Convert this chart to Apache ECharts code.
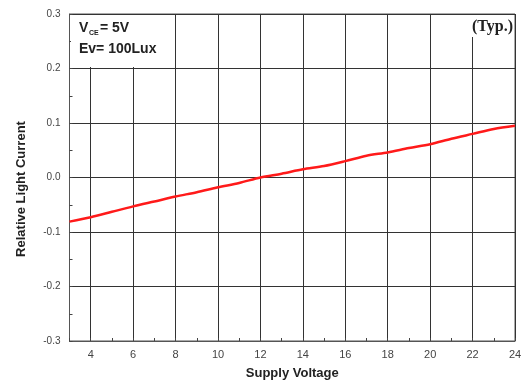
<!DOCTYPE html>
<html>
<head>
<meta charset="utf-8">
<script src="https://cdn.jsdelivr.net/npm/echarts@6/dist/echarts.min.js"></script>
<style>html,body{margin:0;padding:0;background:#fff}#c{width:526px;height:392px}</style>
</head>
<body>
<div id="c"></div>
<script>
var voltage = [3,4,5,6,7,8,9,10,11,12,13,14,15,16,17,18,19,20,21,22,23,24];
var relCurrent = [-0.081,-0.073,-0.063,-0.053,-0.044,-0.035,-0.027,-0.018,-0.010,0.000,0.007,0.015,0.021,0.030,0.040,0.046,0.054,0.061,0.071,0.080,0.089,0.095];
var xTitle = 'Supply Voltage';
var yTitle = 'Relative Light Current';
var note1Main = 'V', note1Sub = 'CE', note1Rest = '= 5V';
var note2 = 'Ev= 100Lux';
var noteTyp = '(Typ.)';

var chart = echarts.init(document.getElementById('c'));
var pts = voltage.map(function(v,i){return [v, relCurrent[i]];});
chart.setOption({
  animation:false,
  backgroundColor:'#fff',
  grid:{left:69.5,right:11,top:14,bottom:51,show:true,borderColor:'#555',borderWidth:1,backgroundColor:'transparent'},
  xAxis:{
    type:'value',min:3,max:24,interval:1,
    name:xTitle,nameLocation:'middle',nameGap:26,
    nameTextStyle:{fontFamily:'Liberation Sans',fontWeight:'bold',fontSize:13,color:'#222'},
    axisLine:{show:true,onZero:false,lineStyle:{color:'#555',width:1}},
    axisTick:{show:true,inside:true,length:3,lineStyle:{color:'#444'}},
    axisLabel:{fontFamily:'Liberation Sans',fontSize:11,color:'#444',margin:8,
      formatter:function(v){return (Math.round(v)%2===0)?String(Math.round(v)):'';}},
    splitLine:{show:true,lineStyle:{color:['rgba(0,0,0,0)','#333'],width:1}}
  },
  yAxis:{
    type:'value',min:-0.3,max:0.3,interval:0.05,
    axisLine:{show:true,onZero:false,lineStyle:{color:'#555',width:1}},
    axisTick:{show:true,inside:true,length:3,lineStyle:{color:'#444'}},
    axisLabel:{fontFamily:'Liberation Sans',fontSize:10,color:'#444',margin:9,
      formatter:function(v){var k=Math.round(v*100);return (k%10===0)?(k/100).toFixed(1):'';}},
    splitLine:{show:true,lineStyle:{color:['#333','rgba(0,0,0,0)'],width:1}}
  },
  graphic:[
    {type:'rect',shape:{x:71,y:15,width:103,height:52},style:{fill:'#fff'},z:5},
    {type:'rect',shape:{x:462,y:15,width:52,height:22},style:{fill:'#fff'},z:5},
    {type:'text',left:79,top:21,z:6,style:{text:note1Main,font:'bold 14px "Liberation Sans"',fill:'#222'}},
    {type:'text',left:89,top:30,z:6,style:{text:note1Sub,font:'bold 7px "Liberation Sans"',fill:'#222'}},
    {type:'text',left:100,top:21,z:6,style:{text:note1Rest,font:'bold 14px "Liberation Sans"',fill:'#222'}},
    {type:'text',left:79,top:42,z:6,style:{text:note2,font:'bold 14px "Liberation Sans"',fill:'#222'}},
    {type:'text',right:13,top:19,z:6,style:{text:noteTyp,font:'bold 16px "Liberation Serif"',fill:'#222'}},
    {type:'text',x:21,y:189,rotation:Math.PI/2,z:6,style:{text:yTitle,font:'bold 13px "Liberation Sans"',fill:'#222',align:'center',verticalAlign:'middle'}}
  ],
  series:[{
    type:'line',data:pts,smooth:0.3,showSymbol:false,symbol:'none',
    lineStyle:{color:'#ff1a1a',width:2.5},z:3
  }]
});
</script>
</body>
</html>
